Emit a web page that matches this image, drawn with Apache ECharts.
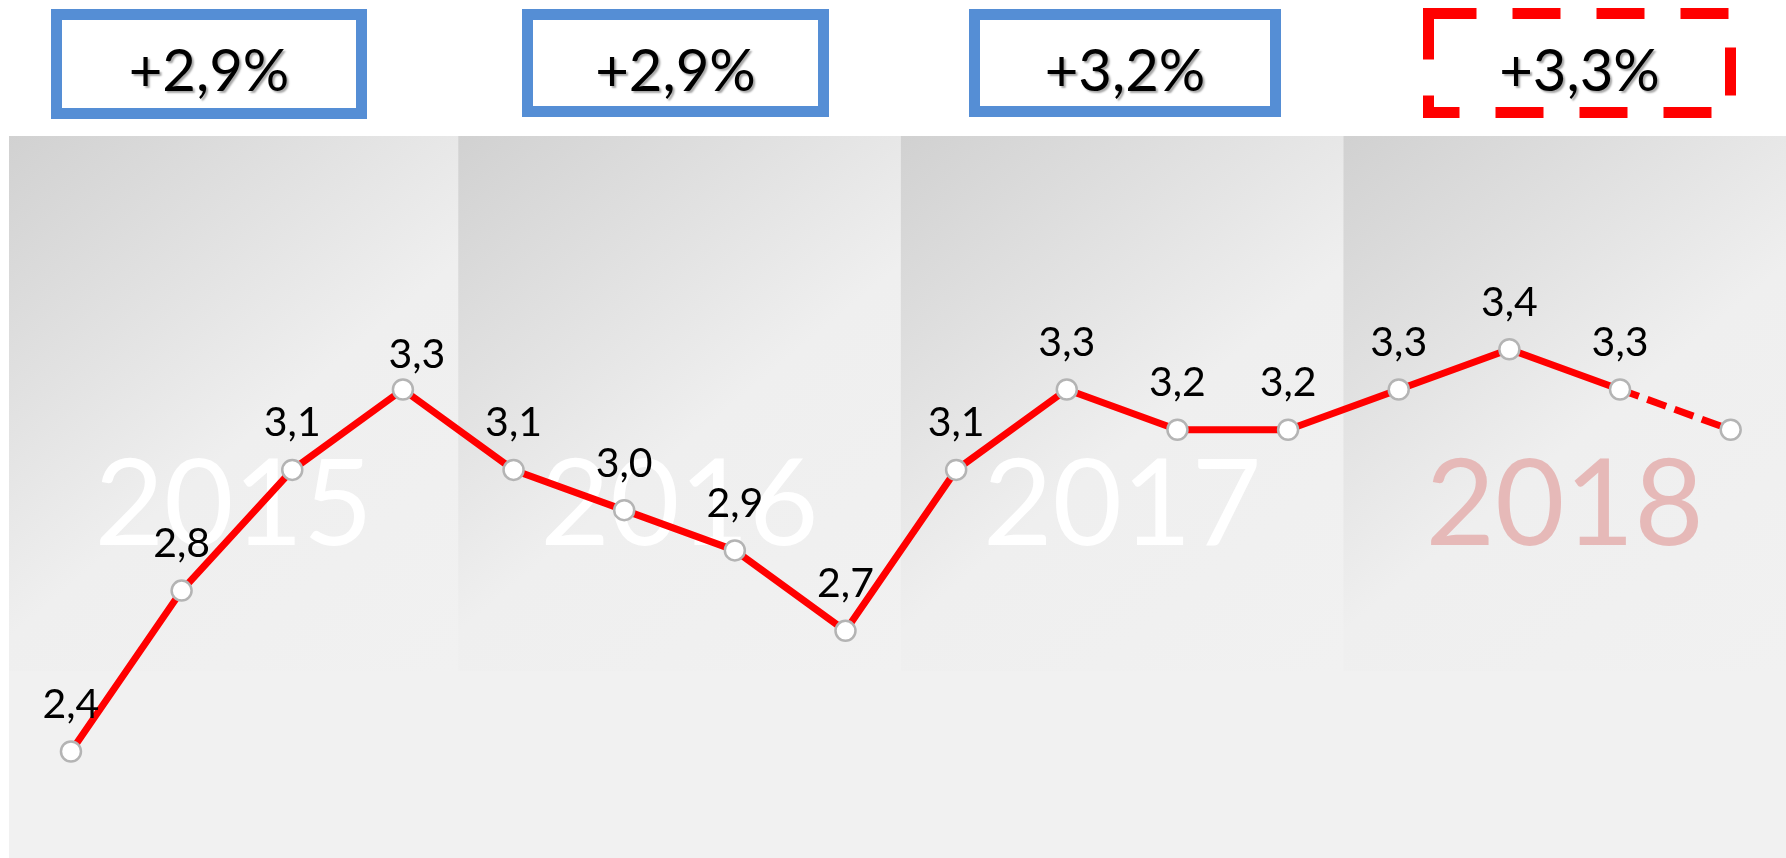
<!DOCTYPE html>
<html>
<head>
<meta charset="UTF-8"/>
<title>Inflation</title>
<script src="https://cdn.jsdelivr.net/npm/echarts@6/dist/echarts.min.js"></script>
<style>
  html, body { margin: 0; padding: 0; background: #fff; }
  #chart { width: 1786px; height: 858px; }
</style>
</head>
<body>
<div id="chart"></div>
<script>
// years (one section of 4 points each) and the yearly growth shown in the boxes
var years = ['2015', '2016', '2017', '2018'];
var yearGrowth = ['+2,9%', '+2,9%', '+3,2%', '+3,3%'];
// quarterly values, the last point is a forecast (dashed)
var actualValues = [2.4, 2.8, 3.1, 3.3, 3.1, 3.0, 2.9, 2.7, 3.1, 3.3, 3.2, 3.2, 3.3, 3.4, 3.3];
var forecastValues = [3.3, 3.2];

var chart = echarts.init(document.getElementById('chart'));

var FONT = 'Lato';
var pointsPerYear = 4;

var actualData = actualValues.map(function (v, i) { return [i + 1, v]; });
var forecastData = forecastValues.map(function (v, i) {
    return [actualValues.length + i, v];
});

// one shaded section per year
var sections = years.map(function (y, i) {
    return [
        {
            name: y,
            xAxis: i === 0 ? 0.44 : i * pointsPerYear + 0.5,
            yAxis: 3.93,
            label: { color: i === years.length - 1 ? '#e6b9b8' : '#ffffff' }
        },
        { xAxis: (i + 1) * pointsPerYear + 0.5, yAxis: 2.6 }
    ];
});

// boxes on top (pixels)
var boxes = [
    { x: 51, y: 9, w: 316, h: 110, dashed: false },
    { x: 522, y: 9, w: 307, h: 108, dashed: false },
    { x: 969, y: 9, w: 312, h: 108, dashed: false },
    { x: 1423, y: 8, w: 313, h: 110, dashed: true }
];
var graphics = [{
    type: 'rect',
    z: -10,
    shape: { x: 9, y: 136, width: 1777, height: 722 },
    style: { fill: '#f1f1f1' }
}];
boxes.forEach(function (b, i) {
    var lw = 11;
    graphics.push({
        type: 'rect',
        shape: { x: b.x + lw / 2, y: b.y + lw / 2, width: b.w - lw, height: b.h - lw },
        style: {
            fill: '#fff',
            stroke: b.dashed ? '#ff0000' : '#558ed5',
            lineWidth: lw,
            lineDash: b.dashed ? [48, 36] : null
        }
    });
    graphics.push({
        type: 'text',
        x: b.x + b.w / 2,
        y: 72,
        style: {
            text: yearGrowth[i],
            fontFamily: FONT,
            fontSize: 58,
            fill: '#000',
            align: 'center',
            verticalAlign: 'middle',
            textShadowColor: 'rgba(0,0,0,0.35)',
            textShadowOffsetX: 2,
            textShadowOffsetY: 2,
            textShadowBlur: 2
        }
    });
});

function fmt(p) {
    return p.value[1].toFixed(1).replace('.', ',');
}

var symbolStyle = { color: '#ffffff', borderColor: '#b4b4b4', borderWidth: 2.5 };

var option = {
    animation: false,
    backgroundColor: '#ffffff',
    graphic: graphics,
    grid: { left: 9, right: 0, top: 136, bottom: 26 },
    xAxis: {
        type: 'value',
        min: 0.44,
        max: 16.5,
        show: false
    },
    yAxis: {
        type: 'value',
        min: 2.2,
        max: 3.93,
        show: false
    },
    series: [
        {
            type: 'line',
            data: forecastData,
            z: 2,
            symbol: function (v, p) { return p.dataIndex === 0 ? 'none' : 'circle'; },
            symbolSize: 20,
            lineStyle: { color: '#ff0000', width: 7, type: [20, 9] },
            itemStyle: symbolStyle
        },
        {
            type: 'line',
            data: actualData,
            z: 3,
            symbol: 'circle',
            symbolSize: 20,
            showAllSymbol: true,
            lineStyle: { color: '#ff0000', width: 7 },
            itemStyle: symbolStyle,
            label: {
                show: true,
                position: 'top',
                distance: 15,
                fontFamily: FONT,
                fontSize: 41,
                color: '#000',
                formatter: fmt
            },
            labelLayout: function (p) {
                // the 2015 peak label sits a little lower and to the right
                if (p.dataIndex === 3) {
                    return { dx: 14, dy: 12 };
                }
                return {};
            },
            markArea: {
                silent: true,
                z: 1,
                itemStyle: {
                    color: {
                        type: 'linear', x: 0, y: 0, x2: 1, y2: 1,
                        colorStops: [
                            { offset: 0, color: '#d1d1d1' },
                            { offset: 0.55, color: '#efefef' },
                            { offset: 1, color: '#f1f1f1' }
                        ]
                    }
                },
                label: {
                    show: true,
                    position: 'inside',
                    offset: [0, 103],
                    fontFamily: FONT,
                    fontSize: 120,
                    color: '#ffffff'
                },
                data: sections
            }
        }
    ]
};

chart.setOption(option);
</script>
</body>
</html>
